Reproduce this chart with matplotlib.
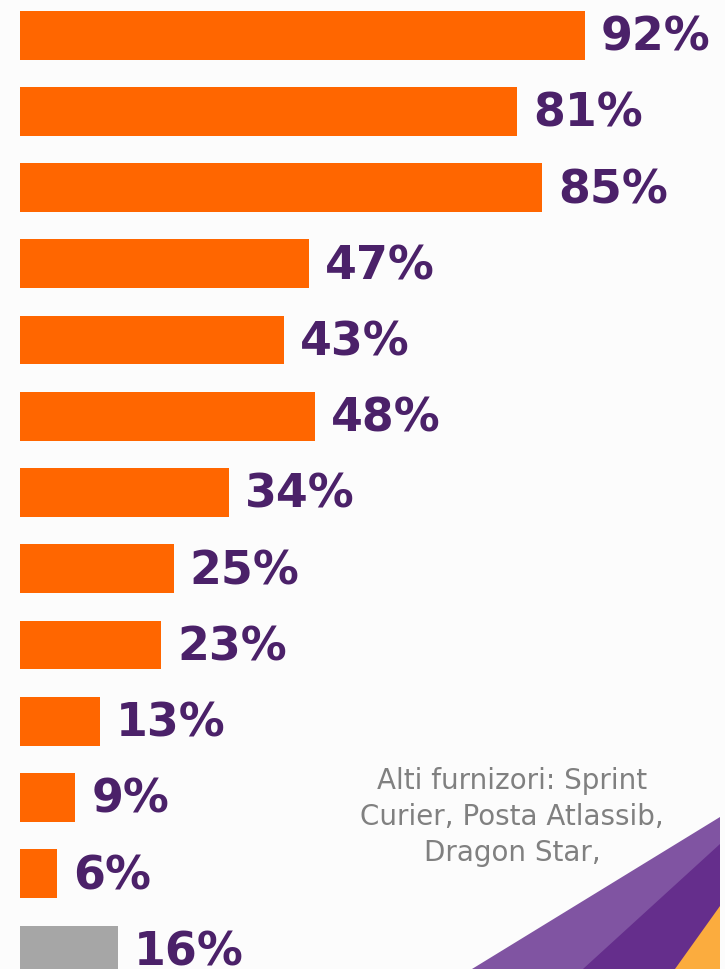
import matplotlib
matplotlib.use("Agg")
import matplotlib.pyplot as plt
from matplotlib.patches import Polygon

# values (percent)
values = [92, 81, 85, 47, 43, 48, 34, 25, 23, 13, 9, 6, 16]
labels = ["92%", "81%", "85%", "47%", "43%", "48%", "34%", "25%", "23%",
          "13%", "9%", "6%", "16%"]
colors = ["#ff6600"] * 12 + ["#a6a6a6"]
note = "Alti furnizori: Sprint\nCurier, Posta Atlassib,\nDragon Star,"

W, H = 725, 970
fig = plt.figure(figsize=(W / 100, H / 100), dpi=100, facecolor="#fcfcfc")
ax = fig.add_axes([0, 0, 1, 1])
ax.set_facecolor("#fcfcfc")

px_per_pct = 6.14
x0 = 20
ax.set_xlim(-x0 / px_per_pct, (W - x0) / px_per_pct)
step = 76.25
first = 36
ax.set_ylim((H - first) / step, -first / step)

pos = list(range(len(values)))
ax.barh(pos, values, height=49 / step, color=colors)
for p, v, lab in zip(pos, values, labels):
    ax.text(v + 16 / px_per_pct, p + 2 / step, lab, ha="left", va="center",
            fontsize=33, fontweight="bold", color="#4b2169")

ax.axis("off")

# corner decoration (figure fraction coords)
def fpoly(pts, c):
    xy = [(x / W, 1 - y / H) for x, y in pts]
    fig.patches.append(Polygon(xy, closed=True, transform=fig.transFigure,
                               facecolor=c, edgecolor="none", zorder=0.5))

fpoly([(472, 970), (720, 818), (720, 970)], "#8054a2")
fpoly([(583, 970), (720, 845), (720, 970)], "#652e8c")
fpoly([(675, 970), (720, 907), (720, 970)], "#fbac3e")

fig.text(512 / W, 1 - 817 / H, note, ha="center", va="center",
         multialignment="center", fontsize=20, color="#808080",
         linespacing=1.38)

fig.savefig("out.png", dpi=100, facecolor=fig.get_facecolor())
